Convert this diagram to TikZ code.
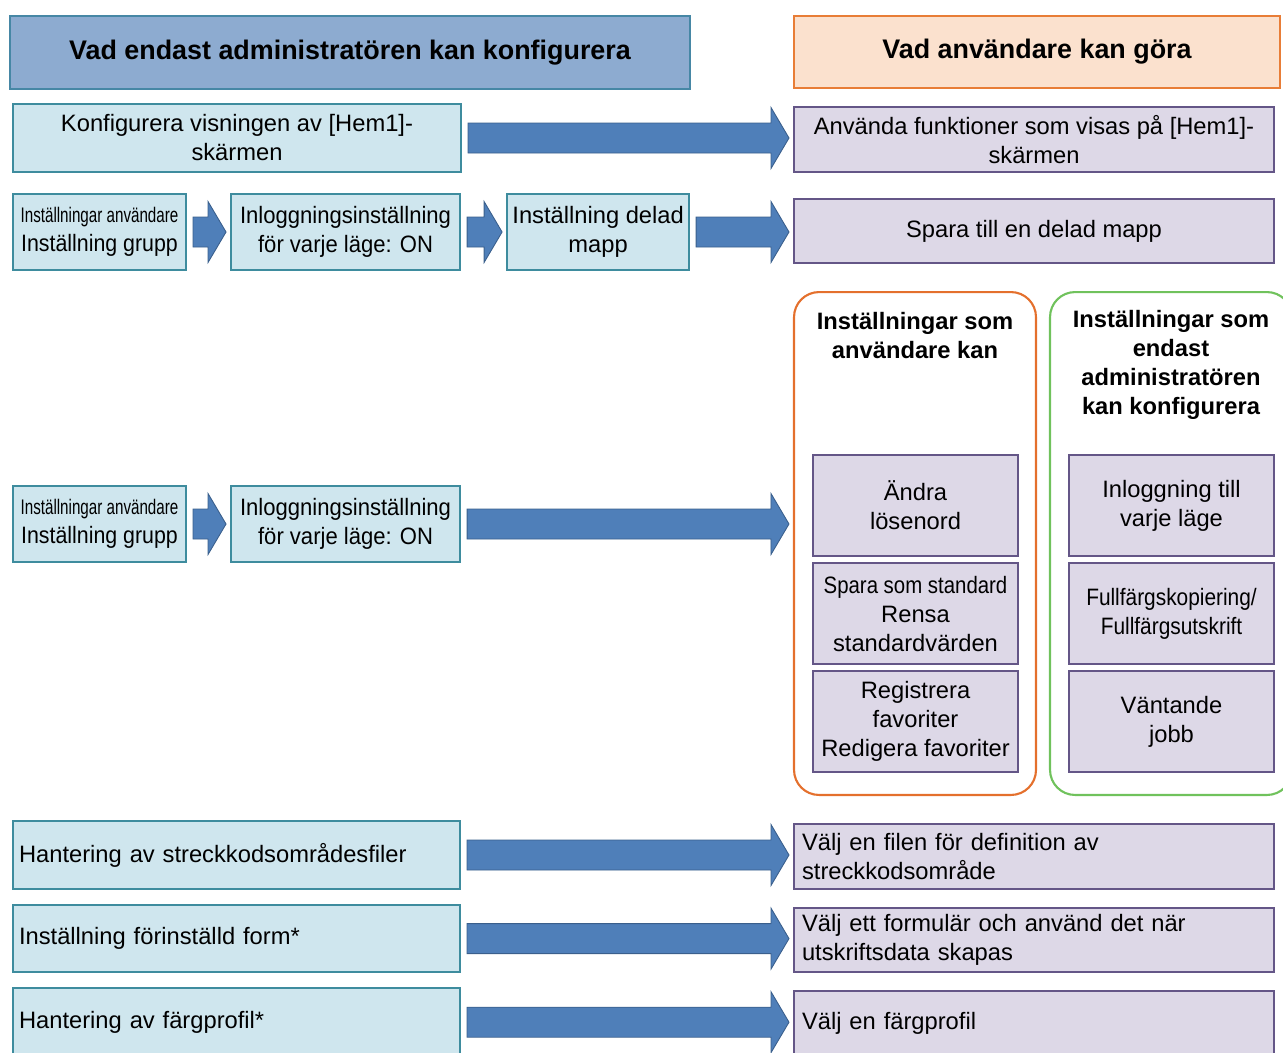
\documentclass[tikz,border=0pt]{standalone}
\usepackage{fontspec}
\setmainfont{Liberation Sans}
\usepackage{graphicx}
\usepackage{tikz}
\usetikzlibrary{positioning, calc}

\definecolor{HdrBlue}      {RGB}{141, 171, 208}
\definecolor{HdrBlueLine}  {RGB}{ 70, 135, 165}
\definecolor{HdrOrange}    {RGB}{251, 225, 206}
\definecolor{HdrOrangeLine}{RGB}{232, 125,  55}
\definecolor{BoxBlue}      {RGB}{207, 230, 238}
\definecolor{BoxBlueLine}  {RGB}{ 62, 140, 158}
\definecolor{BoxLilac}     {RGB}{221, 216, 231}
\definecolor{BoxLilacLine} {RGB}{100,  86, 135}
\definecolor{ArrFill}      {RGB}{ 79, 127, 185}
\definecolor{ArrLine}      {RGB}{ 58,  95, 140}
\definecolor{GrpOrange}    {RGB}{228, 112,  45}
\definecolor{GrpGreen}     {RGB}{112, 194,  92}

\newcommand{\Narrow}[2]{\scalebox{#1}[1]{#2}}

\begin{document}
\begin{tikzpicture}[x=0.02cm, y=-0.02cm,
  font=\fontsize{13.5}{16.5}\selectfont,
  hdr/.style={draw, line width=1.2pt, minimum height=1.46cm,
              font=\fontsize{15.3}{18}\selectfont\bfseries},
  adm/.style={draw=BoxBlueLine, fill=BoxBlue, line width=1.2pt,
              align=center, inner sep=2pt},
  usr/.style={draw=BoxLilacLine, fill=BoxLilac, line width=1.2pt,
              align=center, inner sep=2pt},
  grp/.style={line width=1.2pt, rounded corners=0.5cm,
              minimum width=4.84cm, minimum height=10.06cm},
  grptitle/.style={font=\fontsize{13.5}{16.5}\selectfont\bfseries, align=center},
  blockarr/.style={draw=ArrLine, fill=ArrFill, line width=0.5pt,
    to path={let \p1=(\tikztostart), \p2=(\tikztotarget) in
      (\x1+0.12cm,\y1+0.3cm) -- (\x2-0.44cm,\y1+0.3cm) -- (\x2-0.44cm,\y1+0.61cm)
      -- (\x2-0.08cm,\y1) -- (\x2-0.44cm,\y1-0.61cm) -- (\x2-0.44cm,\y1-0.3cm)
      -- (\x1+0.12cm,\y1-0.3cm) -- cycle}}
]
  \useasboundingbox (0,0) rectangle (1283,1052);
  \clip (0,0) rectangle (1283,1052);

  %% Headers
  \node[hdr, draw=HdrBlueLine, fill=HdrBlue, minimum width=13.6cm] (H1) at (350,52.5)
    {Vad endast administratören kan konfigurera};
  \node[hdr, draw=HdrOrangeLine, fill=HdrOrange, minimum width=9.72cm,
        minimum height=1.44cm] (H2) at (1037,52) {Vad användare kan göra};

  %% Home screen
  \node[adm, minimum width=8.96cm, minimum height=1.36cm] (K1) at (237,138)
    {Konfigurera visningen av [Hem1]-\\skärmen};
  \node[usr, minimum width=9.6cm, minimum height=1.3cm] (A1) at (1034,139.5)
    {Använda funktioner som visas på [Hem1]-\\skärmen};

  %% Shared folder chain
  \node[adm, minimum width=3.46cm, minimum height=1.52cm] (R2a) at (99.5,232)
    {\Narrow{0.72}{\fontsize{12}{14}\selectfont Inställningar användare}\\
     \Narrow{0.9}{Inställning grupp}};
  \node[adm, minimum width=4.58cm, minimum height=1.52cm, right=0.86cm of R2a] (R2b)
    {\Narrow{0.93}{Inloggningsinställning}\\\Narrow{0.93}{för varje läge: ON}};
  \node[adm, minimum width=3.64cm, minimum height=1.52cm, right=0.9cm of R2b] (R2c)
    {Inställning delad\\mapp};
  \node[usr, minimum width=9.6cm, minimum height=1.28cm] (A2) at (1034,231)
    {Spara till en delad mapp};

  %% Settings groups
  \node[grp, draw=GrpOrange] (GU) at (915,543.5) {};
  \node[grp, draw=GrpGreen]  (GA) at (1171,543.5) {};
  \node[grptitle] (TU) at (915,336) {Inställningar som\\användare kan};
  \node[grptitle] (TA) at (1171,365)
    {Inställningar som\\endast\\administratören\\kan konfigurera};

  \node[usr, minimum width=4.1cm, minimum height=2.02cm] (U1) at (915.5,505.5)
    {Ändra\\lösenord};
  \node[usr, minimum width=4.1cm, minimum height=2.02cm, below=0.1cm of U1] (U2)
    {\Narrow{0.86}{Spara som standard}\\Rensa\\standardvärden};
  \node[usr, minimum width=4.1cm, minimum height=2.02cm, below=0.1cm of U2] (U3)
    {Registrera\\favoriter\\Redigera favoriter};

  \node[usr, minimum width=4.1cm, minimum height=2.02cm] (S1) at (1171.5,505.5)
    {Inloggning till\\varje läge};
  \node[usr, minimum width=4.1cm, minimum height=2.02cm, below=0.1cm of S1] (S2)
    {\Narrow{0.88}{Fullfärgskopiering/}\\\Narrow{0.88}{Fullfärgsutskrift}};
  \node[usr, minimum width=4.1cm, minimum height=2.02cm, below=0.1cm of S2] (S3)
    {Väntande\\jobb};

  %% Login chain to groups
  \node[adm, minimum width=3.46cm, minimum height=1.52cm] (R3a) at (99.5,524)
    {\Narrow{0.72}{\fontsize{12}{14}\selectfont Inställningar användare}\\
     \Narrow{0.9}{Inställning grupp}};
  \node[adm, minimum width=4.58cm, minimum height=1.52cm, right=0.86cm of R3a] (R3b)
    {\Narrow{0.93}{Inloggningsinställning}\\\Narrow{0.93}{för varje läge: ON}};

  %% Bottom rows
  \node[adm, minimum width=8.94cm, minimum height=1.36cm, inner xsep=0.12cm,
        text width=8.7cm, align=left] (B1L) at (236.5,855)
    {Hantering av streckkodsområdesfiler};
  \node[adm, minimum width=8.94cm, minimum height=1.34cm, inner xsep=0.12cm,
        text width=8.7cm, align=left, below=0.28cm of B1L] (B2L)
    {Inställning förinställd form*};
  \node[adm, minimum width=8.94cm, minimum height=1.36cm, inner xsep=0.12cm,
        text width=8.7cm, align=left, below=0.28cm of B2L] (B3L)
    {Hantering av färgprofil*};

  \node[usr, minimum width=9.6cm, minimum height=1.3cm, inner xsep=0.16cm,
        text width=9.28cm, align=left] (B1R) at (1034,856.5)
    {Välj en filen för definition av\\streckkodsområde};
  \node[usr, minimum width=9.6cm, minimum height=1.28cm, inner xsep=0.16cm,
        text width=9.28cm, align=left, below=0.34cm of B1R] (B2R)
    {Välj ett formulär och använd det när\\utskriftsdata skapas};
  \node[usr, minimum width=9.6cm, minimum height=1.3cm, inner xsep=0.16cm,
        text width=9.28cm, align=left, below=0.34cm of B2R] (B3R)
    {Välj en färgprofil};

  %% Block arrows
  \draw[blockarr] (K1.east) to (A1.west);
  \draw[blockarr] (R2a.east) to (R2b.west);
  \draw[blockarr] (R2b.east) to (R2c.west);
  \draw[blockarr] (R2c.east) to (A2.west);
  \draw[blockarr] (R3a.east) to (R3b.west);
  \draw[blockarr] (R3b.east) to (GU.west);
  \draw[blockarr] (B1L.east) to (B1R.west);
  \draw[blockarr] (B2L.east) to (B2R.west);
  \draw[blockarr] (B3L.east) to (B3R.west);
\end{tikzpicture}
\end{document}
